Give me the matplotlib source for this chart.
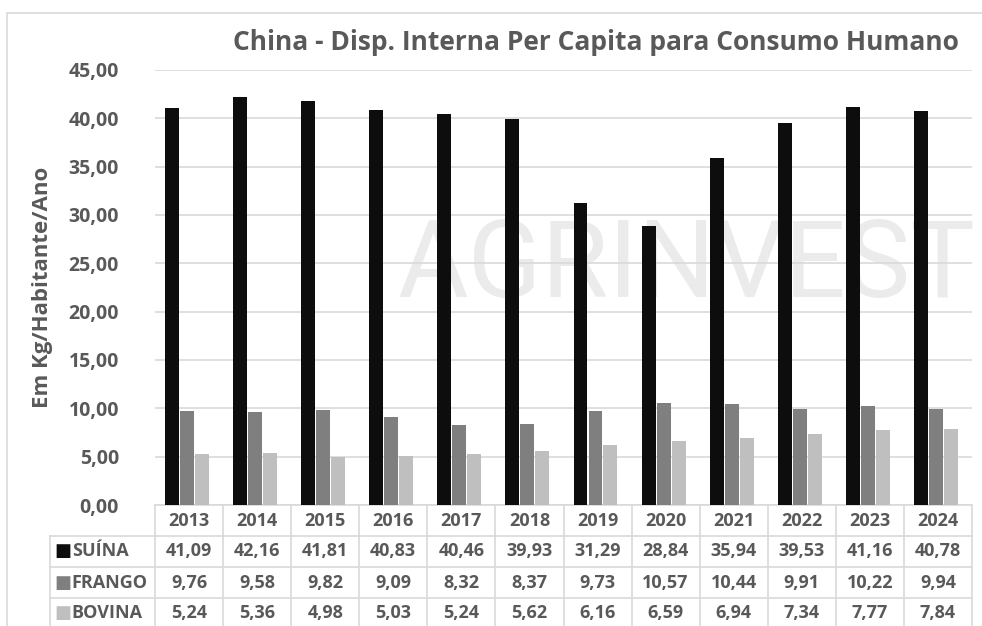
import matplotlib.pyplot as plt
from matplotlib import transforms
from matplotlib.patches import Rectangle

plt.rcParams['font.family'] = ['Open Sans', 'DejaVu Sans']

anos = ["2013", "2014", "2015", "2016", "2017", "2018",
        "2019", "2020", "2021", "2022", "2023", "2024"]
suina = [41.09, 42.16, 41.81, 40.83, 40.46, 39.93, 31.29, 28.84, 35.94, 39.53, 41.16, 40.78]
frango = [9.76, 9.58, 9.82, 9.09, 8.32, 8.37, 9.73, 10.57, 10.44, 9.91, 10.22, 9.94]
bovina = [5.24, 5.36, 4.98, 5.03, 5.24, 5.62, 6.16, 6.59, 6.94, 7.34, 7.77, 7.84]

series = [("SUÍNA", suina, "#0d0d0d"),
          ("FRANGO", frango, "#7f7f7f"),
          ("BOVINA", bovina, "#bfbfbf")]

txt = "#595959"
grid = "#d9d9d9"

fig = plt.figure(figsize=(9.82, 6.26), dpi=100)
ax = fig.add_axes([155/982, 1-505/626, (972-155)/982, 435/626])

# marca d'agua (atras das barras)
ax.text(0.65, 0.545, "AGRINVEST", transform=ax.transAxes, fontsize=78, color="#ebebeb",
        ha="center", va="center", family="Roboto", zorder=1)

# moldura do grafico
fig.patches.append(Rectangle((7/982, -0.1), 1.2, 1-13/626+0.1, transform=fig.transFigure,
                             fill=False, edgecolor=grid, lw=1.2))

x = list(range(len(anos)))
w = 0.205
for i, (nome, vals, cor) in enumerate(series):
    pos = [xi + (i - 1) * (w + 0.015) - 0.03 for xi in x]
    ax.bar(pos, vals, width=w, color=cor, zorder=3)

ax.set_xlim(-0.5, len(anos) - 0.5)
ax.set_ylim(0, 45)
ax.set_yticks(range(0, 46, 5))
ax.set_yticklabels([f"{v:.2f}".replace(".", ",") for v in range(0, 46, 5)],
                   fontsize=14, fontweight="bold", color=txt)
ax.set_xticks([])
ax.tick_params(axis="y", length=0, pad=26)
ax.grid(axis="y", color=grid, lw=1.2, zorder=0)
for s in ax.spines.values():
    s.set_visible(False)
ax.patch.set_alpha(0)

ax.set_ylabel("Em Kg/Habitante/Ano", fontsize=16, fontweight="bold", color=txt)
ax.yaxis.set_label_coords(-0.125, 0.5)

fig.text(596/982, 1-42/626, "China - Disp. Interna Per Capita para Consumo Humano",
         fontsize=19, fontweight="bold", color=txt, ha="center", va="center")

# tabela de dados
tr = transforms.blended_transform_factory(ax.transData, ax.transAxes)
rh = 31 / 435
x0 = -0.5 - (155 - 50) / 68.1
x1 = len(anos) - 0.5
n_rows = 4
for r in range(n_rows + 1):
    y = -r * rh
    xs = -0.5 if r == 0 else x0
    ax.plot([xs, x1], [y, y], color=grid, lw=1.2, transform=tr, clip_on=False)
for c in range(len(anos) + 1):
    xc = c - 0.5
    ax.plot([xc, xc], [0, -n_rows * rh], color=grid, lw=1.2, transform=tr, clip_on=False)
ax.plot([x0, x0], [-rh, -n_rows * rh], color=grid, lw=1.2, transform=tr, clip_on=False)

for c, ano in enumerate(anos):
    ax.text(c, -0.5 * rh, ano, transform=tr, ha="center", va="center",
            fontsize=13, fontweight="bold", color=txt)
for r, (nome, vals, cor) in enumerate(series):
    yc = -(r + 1.5) * rh
    ax.text(x0 + 0.06, yc, "■", transform=tr, ha="left", va="center",
            fontsize=13, color=cor, family="DejaVu Sans")
    ax.text(x0 + 0.32, yc, nome, transform=tr, ha="left", va="center",
            fontsize=13, fontweight="bold", color=txt)
    for c, v in enumerate(vals):
        ax.text(c, yc, f"{v:.2f}".replace(".", ","), transform=tr, ha="center", va="center",
                fontsize=13, fontweight="bold", color=txt)

fig.savefig("out.png", dpi=100)
